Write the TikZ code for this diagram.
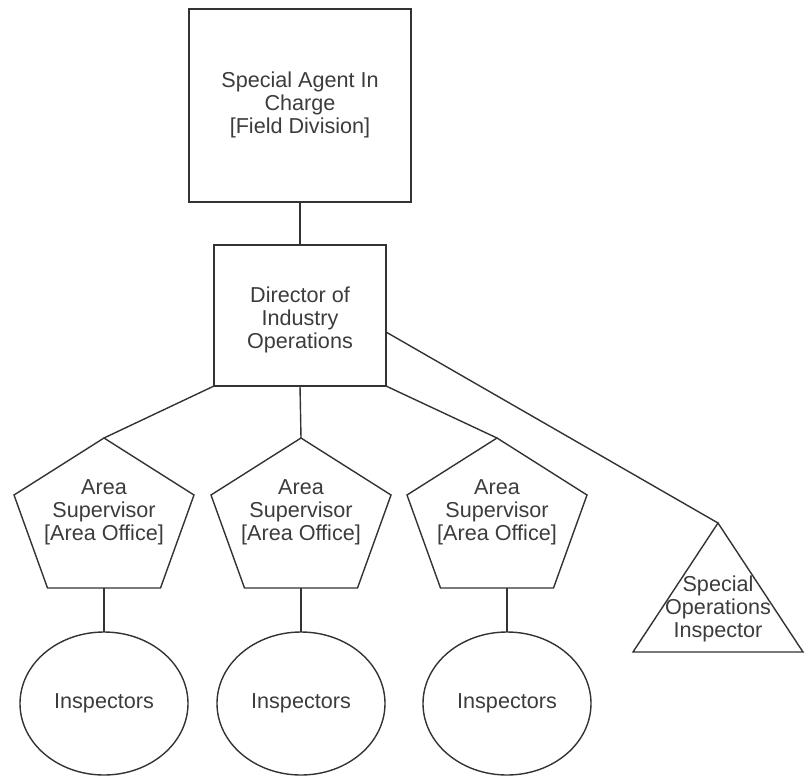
\documentclass[tikz,border=0pt]{standalone}
\usepackage{fontspec}
\setmainfont{Liberation Sans}
\usetikzlibrary{shapes.geometric}
\definecolor{linec}{HTML}{333333}
\definecolor{textc}{HTML}{3C3C3C}
\begin{document}
\begin{tikzpicture}[x=1pt,y=-1pt,
  every node/.style={font=\fontsize{21.6}{23}\selectfont, text=textc, align=center, inner sep=0pt, outer sep=0pt},
  boxnode/.style={draw=linec, line width=1.4pt, rectangle},
  ellnode/.style={draw=linec, line width=1.4pt, ellipse, minimum width=168pt, minimum height=143pt},
  shapeline/.style={draw=linec, line width=1.4pt, line join=miter},
  conn/.style={draw=linec, line width=1.4pt}]
\useasboundingbox (0,0) rectangle (806,777);
% boxes
\node[boxnode, minimum width=222pt, minimum height=193pt] (sac) at (300,105.5) {};
\node (sactxt) at (300,105) {Special Agent In\\Charge\\{[}Field Division{]}};
\node[boxnode, minimum width=172pt, minimum height=141pt] (dio) at (300,315.5) {};
\node (diotxt) at (300,320) {Director of\\Industry\\Operations};
% pentagons
\foreach \n/\c/\b in {p1/104/104, p2/301/301, p3/497/507}{
  \draw[shapeline] (\c,438) -- (\c+90,495) -- (\c+56.5,588) -- (\c-56.5,588) -- (\c-90,495) -- cycle;
  \coordinate (\n top) at (\c,438);
  \coordinate (\n bot) at (\b,588);
  \node (\n txt) at (\c,512.5) {Area\\Supervisor\\{[}Area Office{]}};
}
% triangle
\draw[shapeline] (718,523) -- (803,652) -- (633,652) -- cycle;
\coordinate (tritop) at (718,523);
\node (tritxt) at (718,609) {Special\\Operations\\Inspector};
% ellipses
\node[ellnode] (e1) at (104,703.5) {Inspectors};
\node[ellnode] (e2) at (301,703.5) {Inspectors};
\node[ellnode] (e3) at (507,703.5) {Inspectors};
% connectors
\coordinate (dioR) at ([yshift=-16.5pt]dio.east);
\draw[conn] (sac.south) -- (dio.north);
\draw[conn] (dio.south west) -- (p1top);
\draw[conn] (dio.south) -- (p2top);
\draw[conn] (dio.south east) -- (p3top);
\draw[conn] (dioR) -- (tritop);
\draw[conn] (p1bot) -- (e1.north);
\draw[conn] (p2bot) -- (e2.north);
\draw[conn] (p3bot) -- (e3.north);
\end{tikzpicture}
\end{document}
